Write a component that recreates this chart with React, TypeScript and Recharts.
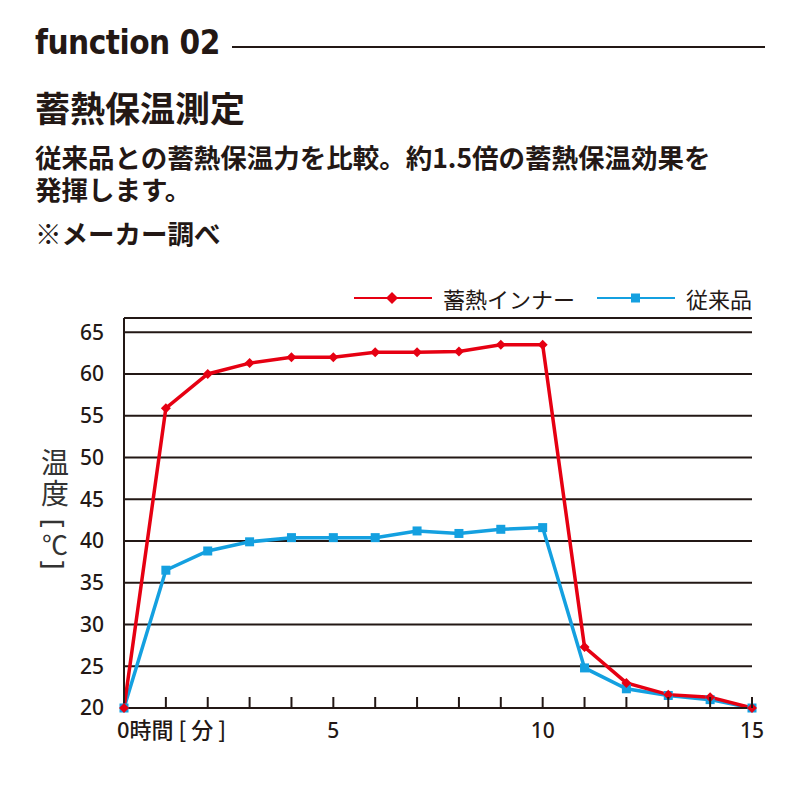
import { LineChart, Line, XAxis, YAxis, CartesianGrid } from 'recharts';

const minutes = [0, 1, 2, 3, 4, 5, 6, 7, 8, 9, 10, 11, 12, 13, 14, 15];
const innerTemp = [20, 55.9, 60, 61.3, 62, 62, 62.6, 62.6, 62.7, 63.5, 63.5, 27.3, 23, 21.6, 21.3, 20];
const conventionalTemp = [20, 36.5, 38.8, 39.9, 40.4, 40.4, 40.4, 41.2, 40.9, 41.4, 41.6, 24.8, 22.3, 21.5, 21, 20];
const yTicks = [20, 25, 30, 35, 40, 45, 50, 55, 60, 65];
const labeledMinutes = [0, 5, 10, 15];

const seriesNames = { inner: '蓄熱インナー', conventional: '従来品' };
const RED = '#e60012';
const BLUE = '#14a0e0';
const INK = '#231815';

const data = minutes.map((m, i) => ({
  min: m,
  inner: innerTemp[i],
  conventional: conventionalTemp[i],
}));

const cjk = "'Noto Sans CJK JP', 'Noto Sans', sans-serif";
const num = "'Noto Sans', 'Open Sans', sans-serif";

const Diamond = (props: any) => {
  const { cx, cy } = props;
  if (cx == null || cy == null) return null;
  return <path d={`M${cx},${cy - 5} L${cx + 5},${cy} L${cx},${cy + 5} L${cx - 5},${cy} Z`} fill={RED} />;
};

const Square = (props: any) => {
  const { cx, cy } = props;
  if (cx == null || cy == null) return null;
  return <rect x={cx - 4.5} y={cy - 4.5} width={9} height={9} fill={BLUE} />;
};

const MinuteTick = (props: any) => {
  const { x, y, payload } = props;
  const v = payload.value;
  return (
    <g>
      {v > 0 && <line x1={x} x2={x} y1={y - 11} y2={y} stroke={INK} strokeWidth={2} />}
      {v === 0 ? (
        <text x={x - 7} y={y + 30} fontFamily={cjk} fontSize={22} fontWeight={500} fill={INK}>
          0時間 [ 分 ]
        </text>
      ) : labeledMinutes.includes(v) ? (
        <text x={x} y={y + 30} textAnchor="middle" fontFamily={num} fontSize={21} fontWeight={500} fill={INK}>
          {v}
        </text>
      ) : null}
    </g>
  );
};

const LegendItem = ({ color, name, square }: { color: string; name: string; square?: boolean }) => (
  <div style={{ display: 'flex', alignItems: 'center', marginLeft: 22 }}>
    <svg width={78} height={12}>
      <line x1={0} x2={78} y1={6} y2={6} stroke={color} strokeWidth={2} />
      {square ? (
        <rect x={34} y={1.5} width={9} height={9} fill={color} />
      ) : (
        <path d="M38,0 L44,6 L38,12 L32,6 Z" fill={color} />
      )}
    </svg>
    <span style={{ marginLeft: 11, fontFamily: cjk, fontSize: 22, color: INK }}>{name}</span>
  </div>
);

// vertical y-axis title: 温 度 [ ℃ ] with the brackets turned on their side
const YTitle = () => (
  <svg width={40} height={140} style={{ position: 'absolute', left: 35, top: 444 }}>
    <text x={20} y={4} fontFamily={cjk} fontSize={28} fill="#333" letterSpacing={3} style={{ writingMode: 'vertical-rl' }}>
      温度
    </text>
    <g fill="#333" textAnchor="middle" dominantBaseline="central">
      <text x={20} y={79} fontFamily={num} fontSize={28} transform="rotate(90 20 79)">[</text>
      <text x={20} y={99} fontFamily={cjk} fontSize={26}>℃</text>
      <text x={20} y={121} fontFamily={num} fontSize={28} transform="rotate(90 20 121)">]</text>
    </g>
  </svg>
);

const App = () => {
  return (
    <div style={{ position: 'absolute', left: 0, top: 0, width: 800, height: 800, background: '#fff', color: INK }}>
      <div
        style={{
          position: 'absolute', left: 35, top: 23,
          fontFamily: "'Liberation Sans Narrow', 'DejaVu Sans Condensed', sans-serif",
          fontWeight: 700, fontSize: 33, letterSpacing: -0.5,
        }}
      >
        function 02
      </div>
      <div style={{ position: 'absolute', left: 232, top: 46, width: 533, height: 2, background: INK }} />
      <div style={{ position: 'absolute', left: 35, top: 85, fontFamily: cjk, fontWeight: 700, fontSize: 35, lineHeight: '44px' }}>
        蓄熱保温測定
      </div>
      {/* one paragraph, broken where the reference breaks it */}
      <div
        style={{
          position: 'absolute', left: 35, top: 141, fontFamily: cjk, fontWeight: 700,
          fontSize: 26.5, lineHeight: '32px', whiteSpace: 'pre-line',
        }}
      >
        {'従来品との蓄熱保温力を比較。約1.5倍の蓄熱保温効果を\n発揮します。'}
      </div>
      <div style={{ position: 'absolute', left: 35, top: 216, fontFamily: cjk, fontWeight: 700, fontSize: 26.5, lineHeight: '34px' }}>
        ※メーカー調べ
      </div>

      <div style={{ position: 'absolute', right: 48, top: 282, display: 'flex' }}>
        <LegendItem color={RED} name={seriesNames.inner} />
        <LegendItem color={BLUE} name={seriesNames.conventional} square />
      </div>

      <YTitle />

      <div style={{ position: 'absolute', left: 0, top: 0 }}>
        <LineChart width={800} height={800} data={data} margin={{ top: 318, right: 48, bottom: 52, left: 64 }}>
          <CartesianGrid vertical={false} stroke={INK} strokeWidth={2} />
          <XAxis
            dataKey="min"
            type="number"
            domain={[0, 15]}
            ticks={minutes}
            interval={0}
            height={40}
            axisLine={{ stroke: INK, strokeWidth: 2 }}
            tickLine={false}
            tickSize={0}
            tickMargin={0}
            tick={<MinuteTick />}
          />
          <YAxis
            type="number"
            domain={[20, 66.7]}
            ticks={yTicks}
            interval={0}
            width={60}
            axisLine={{ stroke: INK, strokeWidth: 2 }}
            tickLine={false}
            tickMargin={14}
            tick={{ fontFamily: num, fontSize: 21, fontWeight: 500, fill: INK }}
          />
          <Line
            dataKey="conventional"
            name={seriesNames.conventional}
            stroke={BLUE}
            strokeWidth={3.5}
            dot={<Square />}
            isAnimationActive={false}
          />
          <Line
            dataKey="inner"
            name={seriesNames.inner}
            stroke={RED}
            strokeWidth={3.5}
            dot={<Diamond />}
            isAnimationActive={false}
          />
        </LineChart>
      </div>
    </div>
  );
};

export default App;
